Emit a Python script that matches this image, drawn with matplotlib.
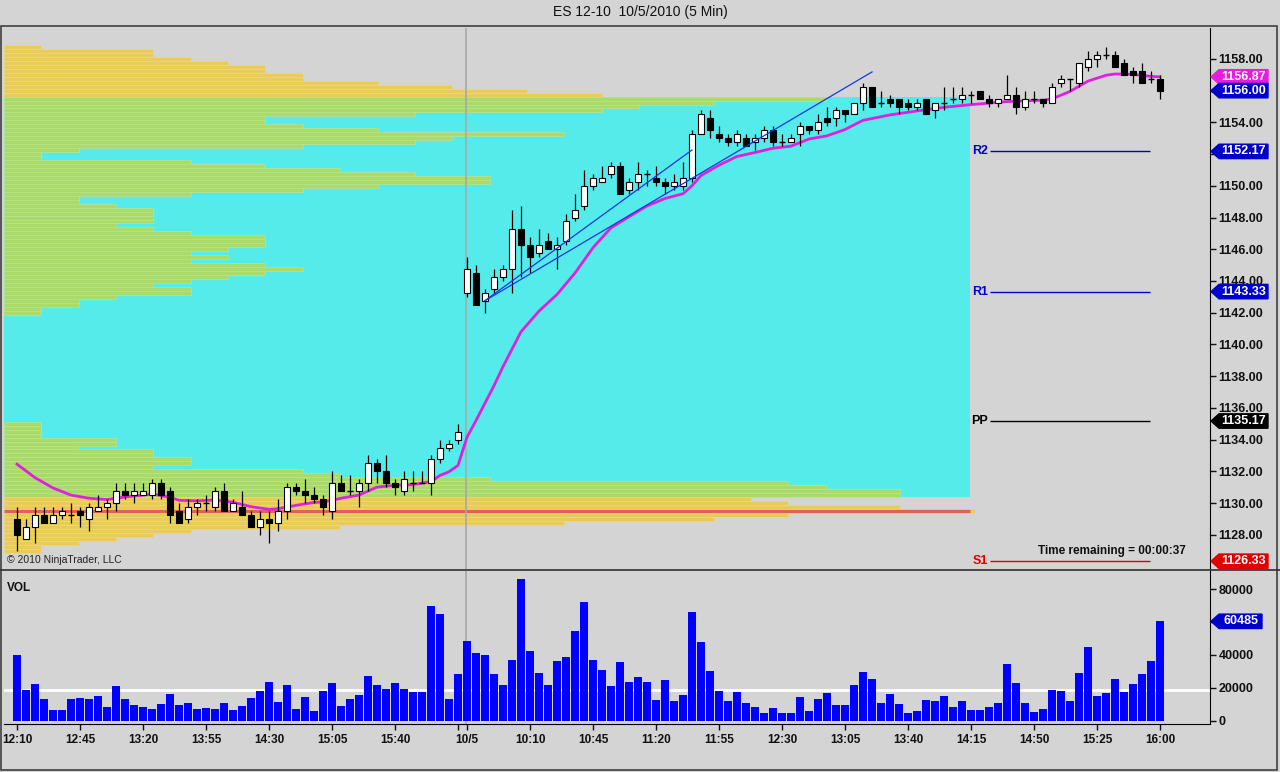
"""
ES 12-10 5 minute chart with volume profile, pivots and volume panel.
"""
import matplotlib
matplotlib.use('Agg')
import matplotlib.pyplot as plt
from matplotlib.patches import Rectangle, Polygon
from matplotlib.lines import Line2D

# ---- data ----
time_labels = ['12:10', '12:45', '13:20', '13:55', '14:30', '15:05', '15:40', '',
               '10/5', '10:10', '10:45', '11:20', '11:55', '12:30', '13:05',
               '13:40', '14:15', '14:50', '15:25', '16:00']
time_label_bars = [0, 7, 14, 21, 28, 35, 42, 49, 50, 57, 64, 71, 78, 85, 92,
                   99, 106, 113, 120, 127]
session_break = 49.9

opens = [1129.0, 1127.75, 1128.5, 1129.25, 1128.75, 1129.25, 1129.25, 1129.5, 1129.0, 1129.5,
         1129.75, 1130.0, 1130.75, 1130.5, 1130.5, 1130.5, 1131.25, 1130.75, 1129.5, 1129.0,
         1129.75, 1130.0, 1129.75, 1130.75, 1129.5, 1129.75, 1129.25, 1128.5, 1129.0, 1128.75,
         1129.5, 1131.0, 1130.75, 1130.5, 1130.25, 1129.5, 1131.25, 1130.75, 1130.75, 1131.25,
         1132.5, 1132.0, 1131.25, 1130.75, 1131.25, 1131.25, 1131.25, 1132.75, 1133.5, 1134.0,
         1143.25, 1144.5, 1142.75, 1143.5, 1144.25, 1144.75, 1147.25, 1146.25, 1145.75, 1146.5,
         1146.0, 1146.5, 1148.0, 1148.75, 1150.0, 1150.25, 1150.75, 1151.25, 1149.75, 1150.25,
         1150.75, 1150.5, 1150.25, 1150.0, 1150.0, 1150.5, 1153.25, 1154.25, 1153.25, 1153.0,
         1152.75, 1153.0, 1152.75, 1153.0, 1153.5, 1152.75, 1152.75, 1153.25, 1153.75, 1153.5,
         1154.25, 1154.25, 1154.75, 1154.5, 1155.25, 1156.25, 1155.25, 1155.5, 1155.5, 1155.25,
         1155.0, 1155.5, 1154.75, 1155.25, 1155.5, 1155.5, 1155.75, 1156.0, 1155.5, 1155.25,
         1155.5, 1155.75, 1155.0, 1155.5, 1155.5, 1155.25, 1156.5, 1156.75, 1156.5, 1157.5,
         1158.0, 1158.25, 1158.25, 1157.75, 1157.25, 1157.25, 1156.75, 1156.75]
highs = [1129.75, 1129.0, 1129.75, 1129.75, 1129.75, 1129.75, 1130.0, 1129.75, 1130.0, 1130.5,
         1130.25, 1131.25, 1131.25, 1131.25, 1131.25, 1131.5, 1131.5, 1131.0, 1130.0, 1130.25,
         1130.25, 1130.5, 1131.0, 1131.25, 1130.25, 1130.75, 1129.5, 1129.5, 1129.5, 1130.25,
         1131.25, 1131.25, 1131.5, 1131.0, 1130.5, 1132.0, 1131.75, 1131.75, 1131.5, 1133.0,
         1132.75, 1133.0, 1131.5, 1132.0, 1132.0, 1132.0, 1133.0, 1134.0, 1134.0, 1135.0,
         1145.5, 1145.0, 1143.5, 1144.75, 1145.0, 1148.5, 1148.75, 1146.75, 1147.25, 1147.0,
         1146.75, 1148.25, 1149.5, 1151.0, 1150.75, 1151.25, 1151.5, 1151.5, 1150.5, 1151.5,
         1151.0, 1151.25, 1150.5, 1150.75, 1151.5, 1153.5, 1154.75, 1154.75, 1153.75, 1153.25,
         1153.5, 1153.25, 1153.25, 1153.75, 1153.75, 1153.25, 1153.25, 1154.0, 1153.75, 1154.5,
         1155.0, 1155.0, 1154.75, 1155.25, 1156.5, 1156.25, 1156.0, 1155.75, 1155.5, 1155.5,
         1155.5, 1155.5, 1155.25, 1156.25, 1156.25, 1156.25, 1156.0, 1156.0, 1155.75, 1155.5,
         1157.0, 1156.25, 1156.0, 1156.0, 1155.5, 1156.5, 1157.0, 1156.75, 1157.75, 1158.5,
         1158.5, 1158.75, 1158.5, 1158.0, 1157.5, 1157.75, 1157.25, 1157.0]
lows = [1127.0, 1127.75, 1127.5, 1128.75, 1128.75, 1129.0, 1128.75, 1128.5, 1128.25, 1129.5,
        1129.0, 1129.5, 1130.25, 1130.0, 1130.5, 1130.25, 1130.25, 1128.75, 1128.75, 1128.75,
        1129.25, 1129.5, 1129.5, 1129.5, 1129.5, 1129.25, 1128.5, 1128.0, 1127.5, 1128.25,
        1129.0, 1130.5, 1130.0, 1130.0, 1129.25, 1129.0, 1130.75, 1130.5, 1129.75, 1130.75,
        1131.25, 1131.0, 1130.5, 1130.5, 1130.75, 1131.25, 1130.5, 1132.5, 1133.25, 1133.75,
        1143.0, 1142.5, 1142.0, 1143.25, 1144.0, 1143.25, 1144.25, 1144.5, 1145.5, 1146.0,
        1144.75, 1146.25, 1147.75, 1148.5, 1149.75, 1150.25, 1150.5, 1149.5, 1149.5, 1149.75,
        1150.0, 1150.0, 1149.5, 1149.75, 1149.75, 1150.25, 1153.25, 1153.0, 1152.75, 1152.5,
        1152.5, 1152.5, 1152.25, 1152.75, 1152.5, 1152.5, 1152.75, 1152.5, 1153.25, 1153.25,
        1153.75, 1153.75, 1154.0, 1154.5, 1154.75, 1155.0, 1155.0, 1155.0, 1154.5, 1154.75,
        1154.75, 1154.5, 1154.25, 1154.75, 1155.25, 1155.25, 1155.25, 1155.5, 1155.0, 1155.0,
        1155.5, 1154.5, 1154.75, 1155.25, 1155.0, 1155.25, 1156.25, 1156.0, 1156.25, 1157.25,
        1157.5, 1158.0, 1157.5, 1157.0, 1156.5, 1156.5, 1156.5, 1155.5]
closes = [1128.0, 1128.5, 1129.25, 1128.75, 1129.25, 1129.5, 1129.25, 1129.25, 1129.75, 1129.75,
          1130.0, 1130.75, 1130.5, 1130.75, 1130.75, 1131.25, 1130.5, 1129.25, 1128.75, 1129.75,
          1130.0, 1130.0, 1130.75, 1129.5, 1130.0, 1129.25, 1128.5, 1129.0, 1128.75, 1129.5,
          1131.0, 1130.75, 1130.5, 1130.25, 1129.75, 1131.25, 1130.75, 1130.75, 1131.25, 1132.5,
          1132.0, 1131.25, 1131.0, 1131.5, 1131.25, 1131.25, 1132.75, 1133.5, 1133.75, 1134.5,
          1144.75, 1142.5, 1143.25, 1144.25, 1144.75, 1147.25, 1146.25, 1145.5, 1146.25, 1146.0,
          1146.25, 1147.75, 1148.5, 1150.0, 1150.5, 1150.5, 1151.25, 1149.5, 1150.25, 1150.75,
          1150.75, 1150.25, 1150.0, 1150.25, 1150.5, 1153.25, 1154.5, 1153.5, 1153.0, 1152.75,
          1153.25, 1152.5, 1153.0, 1153.5, 1152.75, 1152.75, 1153.0, 1153.75, 1153.5, 1154.0,
          1154.0, 1154.75, 1154.5, 1155.25, 1156.25, 1155.0, 1155.25, 1155.25, 1155.0, 1155.0,
          1155.25, 1154.5, 1155.25, 1155.25, 1155.5, 1155.75, 1155.75, 1155.5, 1155.25, 1155.5,
          1155.75, 1155.0, 1155.5, 1155.5, 1155.25, 1156.25, 1156.75, 1156.75, 1157.75, 1158.0,
          1158.25, 1158.25, 1157.5, 1157.0, 1157.0, 1156.5, 1156.75, 1156.0]

volumes = [40000, 18700, 22300, 13200, 6500, 6500, 13200, 13800, 13200, 15000,
           8300, 21100, 13200, 9500, 8300, 7100, 10200, 16200, 9500, 10800,
           7100, 7700, 7100, 10800, 6500, 8900, 13800, 18100, 23500, 11400,
           21700, 7100, 14400, 5900, 18100, 22900, 8900, 13200, 15600, 27200,
           21700, 19300, 22900, 19300, 17500, 17500, 69800, 65000, 13200, 28400,
           48500, 41200, 40000, 28400, 21700, 36900, 86300, 42400, 29000, 21700,
           36300, 38800, 54600, 72300, 36900, 30900, 21100, 35700, 23500, 26700,
           23500, 12600, 24800, 12000, 15600, 66200, 47900, 30200, 18100, 12000,
           17500, 10800, 8300, 4700, 7700, 4700, 4700, 14400, 5900, 13200,
           16800, 9500, 9500, 21700, 29600, 25400, 10800, 16200, 10200, 4700,
           5900, 12600, 12000, 15000, 8300, 12000, 6500, 6500, 8300, 10800,
           34500, 22900, 10800, 5300, 7100, 18700, 18100, 12000, 29000, 44900,
           15000, 16800, 25400, 17500, 22300, 28400, 36300, 60485]
volume_avg = 18700

# moving average (magenta), read at selected bars
ma_bars = [0, 2, 4, 6, 8, 10, 12, 14, 15, 17, 18, 20, 22, 24, 26, 28, 29, 31, 33, 34,
           36, 38, 40, 42, 44, 46, 47, 48, 49, 50, 51, 52, 53, 54, 55, 56, 58, 60, 62, 64,
           66, 68, 70, 72, 74, 75, 76, 78, 80, 82, 84, 86, 88, 90, 92, 94, 97, 100, 103, 106,
           110, 114, 115, 117, 119, 121, 122, 124, 126, 127]
ma_vals = [1132.45, 1131.6, 1130.95, 1130.5, 1130.3, 1130.22, 1130.38, 1130.5, 1130.57, 1130.36,
           1130.17, 1130.14, 1130.19, 1130.05, 1129.77, 1129.6, 1129.64, 1129.85, 1130.04, 1130.06,
           1130.3, 1130.5, 1131.0, 1131.12, 1131.16, 1131.35, 1131.74, 1131.97, 1132.37, 1134.15,
           1135.2, 1136.3, 1137.4, 1138.6, 1139.7, 1140.8, 1142.1, 1143.15, 1144.5, 1146.1,
           1147.35, 1148.05, 1148.73, 1149.2, 1149.5, 1150.0, 1150.65, 1151.3, 1151.85, 1152.1,
           1152.37, 1152.5, 1152.95, 1153.15, 1153.55, 1154.13, 1154.47, 1154.72, 1154.95, 1155.12,
           1155.31, 1155.4, 1155.48, 1155.95, 1156.6, 1156.97, 1157.05, 1157.03, 1156.9, 1156.87]

# volume profile rows (price, length in profile units)
profile_prices = [1158.75, 1158.5, 1158.25, 1158.0, 1157.75, 1157.5, 1157.25, 1157.0, 1156.75, 1156.5,
                  1156.25, 1156.0, 1155.75, 1155.5, 1155.25, 1155.0, 1154.75, 1154.5, 1154.25, 1154.0,
                  1153.75, 1153.5, 1153.25, 1153.0, 1152.75, 1152.5, 1152.25, 1152.0, 1151.75, 1151.5,
                  1151.25, 1151.0, 1150.75, 1150.5, 1150.25, 1150.0, 1149.75, 1149.5, 1149.25, 1149.0,
                  1148.75, 1148.5, 1148.25, 1148.0, 1147.75, 1147.5, 1147.25, 1147.0, 1146.75, 1146.5,
                  1146.25, 1146.0, 1145.75, 1145.5, 1145.25, 1145.0, 1144.75, 1144.5, 1144.25, 1144.0,
                  1143.75, 1143.5, 1143.25, 1143.0, 1142.75, 1142.5, 1142.25, 1142.0,
                  1135.0, 1134.75, 1134.5, 1134.25, 1134.0, 1133.75, 1133.5, 1133.25, 1133.0, 1132.75,
                  1132.5, 1132.25, 1132.0, 1131.75, 1131.5, 1131.25, 1131.0, 1130.75, 1130.5, 1130.25,
                  1130.0, 1129.75, 1129.5, 1129.25, 1129.0, 1128.75, 1128.5, 1128.25, 1128.0, 1127.75,
                  1127.5, 1127.25, 1127.0]
profile_units = [1, 4, 4, 5, 6, 7, 7, 8, 8, 10,
                 12, 14, 16, 22, 19, 17, 16, 11, 7, 7,
                 8, 10, 15, 12, 11, 8, 2, 1, 1, 5,
                 7, 9, 11, 13, 13, 10, 8, 5, 2, 2,
                 3, 4, 4, 4, 4, 3, 4, 5, 7, 7,
                 7, 6, 5, 6, 5, 7, 8, 7, 6, 5,
                 4, 5, 5, 3, 2, 2, 1, 1,
                 1, 1, 1, 1, 3, 3, 2, 4, 4, 5,
                 5, 4, 8, 9, 13, 21, 22, 24, 24, 20,
                 21, 24, 26, 21, 19, 15, 9, 5, 4, 3,
                 2, 1, 1]
value_area = (1130.5, 1155.5)
poc_price = 1129.5

pivot_names = ['R2', 'R1', 'PP', 'S1']
pivot_values = [1152.17, 1143.33, 1135.17, 1126.33]
pivot_colors = ['#0000CC', '#0000CC', '#000000', '#E00000']

# hand drawn trend lines: (bar, price) end points
trend_lines = [[(52, 1142.76), (95, 1157.18)],
               [(52, 1142.76), (75, 1152.26)]]

last_price = 1156.00
last_ma = 1156.87
time_remaining = '00:00:37'

# ---- layout (pixel based, 1280x772) ----
W, H = 1280, 772
BG = '#D4D4D4'
CYAN = '#55EBEB'
GOLD = '#E8CB58'
GOLD_EDGE = '#EFD984'
GREEN = '#AADB68'
GREEN_EDGE = '#C3E58E'
plt.rcParams['font.family'] = ['Liberation Sans', 'DejaVu Sans']

fig = plt.figure(figsize=(W / 100, H / 100), dpi=100, facecolor=BG)


def px_axes(x0, y0, x1, y1):
    return fig.add_axes([x0 / W, 1 - y1 / H, (x1 - x0) / W, (y1 - y0) / H])


AX_L, AX_R = 4, 1210
ax = px_axes(AX_L, 28, AX_R, 569)
axv = px_axes(AX_L, 571, AX_R, 724)
x_lim = ((AX_L - 17) / 9, (AX_R - 17) / 9)
for a in (ax, axv):
    a.set_facecolor(BG)
    a.set_xlim(*x_lim)
ax.set_ylim(1125.84, 1159.95)
axv.set_ylim(-2000, 91100)

# ---- volume profile ----
unit = 37.35 / 9
box_right = (970 - 17) / 9
ax.add_patch(Rectangle((x_lim[0], value_area[0] - 0.125), box_right - x_lim[0],
                       value_area[1] - value_area[0] + 0.25, fc=CYAN, ec='none', zorder=1))
for p, n in zip(profile_prices, profile_units):
    inside = value_area[0] <= p <= value_area[1]
    ax.add_patch(Rectangle((x_lim[0], p - 0.125), n * unit, 0.25,
                           fc=GREEN if inside else GOLD,
                           ec=GREEN_EDGE if inside else GOLD_EDGE, lw=0.4, zorder=2))
ax.hlines(poc_price, x_lim[0], box_right, color='#E0605A', lw=2.3, zorder=3)

# session separator
for a in (ax, axv):
    a.axvline(session_break, color='#A8A8A8', lw=1.2, zorder=3)

# ---- moving average ----
ax.plot(ma_bars, ma_vals, color='#E020E0', lw=2, zorder=5)

# ---- candles ----
bw = 0.6
for i, (o, h, l, c) in enumerate(zip(opens, highs, lows, closes)):
    ax.vlines(i, l, h, color='black', lw=0.9, zorder=6)
    if o == c:
        ax.hlines(o, i - bw / 2, i + bw / 2, color='black', lw=1.0, zorder=7)
    else:
        fc = 'white' if c > o else 'black'
        ax.add_patch(Rectangle((i - bw / 2, min(o, c)), bw, abs(c - o), fc=fc,
                               ec='black', lw=0.8, zorder=7))

# ---- trend lines ----
for (x0, y0), (x1, y1) in trend_lines:
    ax.plot([x0, x1], [y0, y1], color='#1438E6', lw=0.9, zorder=8)

# ---- pivots ----
piv_x0, piv_x1 = (990 - 17) / 9, (1150 - 17) / 9
for name, val, col in zip(pivot_names, pivot_values, pivot_colors):
    ax.hlines(val, piv_x0, piv_x1, color=col, lw=1.0, zorder=4)
    ax.text(piv_x0 - 0.2, val, name, color=col, fontsize=9, fontweight='bold',
            ha='right', va='center', zorder=9)

ax.text((1186 - 17) / 9, 1126.95, 'Time remaining = ' + time_remaining, fontsize=8.5,
        fontweight='bold', ha='right', va='center', color='#101010', zorder=9)
ax.text(x_lim[0] + 0.35, 1126.4, '\u00a9 2010 NinjaTrader, LLC', fontsize=7.5,
        ha='left', va='center', color='#202020', zorder=9)

# ---- volume bars ----
axv.bar(range(len(volumes)), volumes, width=0.78, color='#0000FF', zorder=3)
axv.axhline(volume_avg, color='white', lw=2, zorder=2)
axv.text(x_lim[0] + 0.35, 80800, 'VOL', fontsize=8.5, fontweight='bold',
         ha='left', va='center', color='#101010')

# ---- axes styling ----
# labels under the value tags are hidden, as on the original
price_ticks = list(range(1128, 1160, 2))
ax.yaxis.tick_right()
ax.set_yticks(price_ticks)
ax.set_yticklabels(['' if v in (1152, 1156) else '%.2f' % v for v in price_ticks])
ax.tick_params(axis='y', length=4, width=1, pad=2, labelsize=9, colors='#101010')
ax.set_xticks([])
axv.yaxis.tick_right()
axv.set_yticks([0, 20000, 40000, 60000, 80000])
axv.set_yticklabels(['0', '20000', '40000', '', '80000'])
axv.tick_params(axis='y', length=4, width=1, pad=2, labelsize=9, colors='#101010')
axv.set_xticks(time_label_bars)
axv.set_xticklabels(time_labels)
axv.tick_params(axis='x', length=4, width=1, pad=3, labelsize=8.5, colors='#101010')
for lbl in ax.get_yticklabels() + axv.get_yticklabels() + axv.get_xticklabels():
    lbl.set_fontweight('bold')

for a in (ax, axv):
    for s in ('left', 'top'):
        a.spines[s].set_visible(False)
    a.spines['right'].set_color('black')
ax.spines['bottom'].set_visible(False)
axv.spines['bottom'].set_color('black')


# ---- value tags on the right axis ----
def fx(px):
    return (px - AX_L) / (AX_R - AX_L)


def tag(a, val, text, color, px_per_unit, right=1268):
    h = 7.2 / px_per_unit
    pts = [(fx(1211), val), (fx(1219), val + h), (fx(right), val + h),
           (fx(right), val - h), (fx(1219), val - h)]
    tr = a.get_yaxis_transform()
    a.add_patch(Polygon(pts, closed=True, fc=color, ec=color, transform=tr,
                        clip_on=False, zorder=10))
    a.text(fx((1219 + right) / 2), val, text, color='white', fontsize=9, fontweight='bold',
           ha='center', va='center', transform=tr, clip_on=False, zorder=11)


price_px = 15.857
tag(ax, last_ma, '%.2f' % last_ma, '#E61EDC', price_px)
tag(ax, last_price, '%.2f' % last_price, '#0000CC', price_px)
for val, col in zip(pivot_values, pivot_colors):
    tag(ax, val, '%.2f' % val, col, price_px)
tag(axv, volumes[-1], str(volumes[-1]), '#0000CC', 1 / 608.8, right=1262)

# ---- frame and title ----
fig.add_artist(Rectangle((1 / W, 1 - 770 / H), 1276 / W, 744 / H, transform=fig.transFigure,
                         fill=False, ec='#404040', lw=1.2))
fig.add_artist(Line2D([0, 1], [1 - 569.5 / H] * 2, transform=fig.transFigure,
                      color='#303030', lw=1.2))
fig.text(0.5, 1 - 12 / H, 'ES 12-10  10/5/2010 (5 Min)', ha='center', va='center',
         fontsize=10, color='#101010')

fig.savefig('out.png', dpi=100, facecolor=BG)
